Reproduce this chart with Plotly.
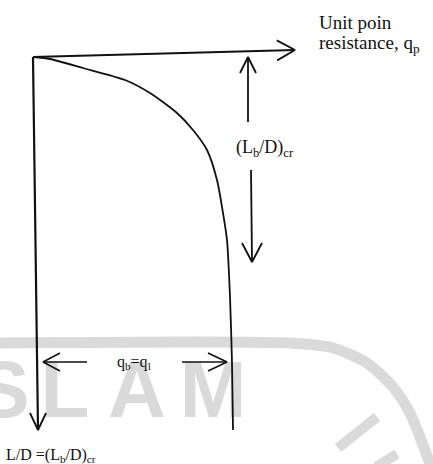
import plotly.graph_objects as go

# curve q_p vs L/D (diagram units, origin at the corner of the axes, depth downwards)
curve_q = [0, 17, 50, 92, 117, 144, 160, 174, 184, 190, 194, 197, 199, 200]
curve_depth = [0, 2, 11, 23, 36, 56, 73, 93, 123, 156, 183, 240, 306, 373]

# axes ends
q_axis_end = [262, -7]
depth_axis_end = [5, 373]

# (Lb/D)cr dimension arrow
crit_x = [215, 219]
crit_top = [0, 65]
crit_bottom = [113, 205]

# q_b = q_l dimension arrow
ql_y = 305
ql_left = [10, 54]
ql_right = [149, 194]

# scanned watermark (letters and ring of the stamp)
wm_letters = ["S", "L", "A", "M"]
wm_x = [-30, 32, 104, 180]
ring_x = [-40, 257, 300, 334, 360, 377, 390, 398]
ring_y = [286, 286, 291, 306, 330, 356, 388, 410]

BLACK = "#111111"
WM = "#dadada"


def chevron(tx, ty, dx, dy, length=17, half=9):
    # open arrow head, (dx, dy) unit direction of the arrow
    bx, by = tx - dx * length, ty - dy * length
    px, py = -dy * half, dx * half
    return [bx + px, tx, bx - px], [by + py, ty, by - py]


def line(fig, xs, ys, width=2, shape="linear", color=BLACK):
    fig.add_trace(go.Scatter(x=xs, y=ys, mode="lines", hoverinfo="skip",
                             line=dict(color=color, width=width, shape=shape,
                                       smoothing=0.7 if shape == "spline" else None)))


fig = go.Figure()

# watermark left over from the scan (kept under the drawing)
fig.add_trace(go.Scatter(
    x=wm_x, y=[340] * len(wm_x), mode="text", hoverinfo="skip",
    text=["<b>%s</b>" % s for s in wm_letters], textposition="middle center",
    textfont=dict(family="Liberation Sans", size=80, color=WM),
))
line(fig, ring_x, ring_y, 11, "spline", WM)
line(fig, [344, 305], [360, 391], 10, color=WM)
line(fig, [364, 343], [397, 410], 10, color=WM)

# axes
line(fig, [0, q_axis_end[0]], [0, q_axis_end[1]], 2.2)
hx, hy = chevron(q_axis_end[0], q_axis_end[1], 1, -0.02, 18, 10)
line(fig, hx, hy, 1.8)
line(fig, [0, depth_axis_end[0]], [0, depth_axis_end[1]], 2.2)
hx, hy = chevron(depth_axis_end[0], depth_axis_end[1], 0, 1, 17, 8)
line(fig, hx, hy, 1.8)

# curve
line(fig, curve_q, curve_depth, 1.8, "spline")

# critical depth arrow
line(fig, [crit_x[0], crit_x[0]], crit_top, 1.8)
hx, hy = chevron(crit_x[0], crit_top[0], 0, -1, 16, 8)
line(fig, hx, hy, 1.8)
line(fig, [crit_x[1] - 1, crit_x[1]], crit_bottom, 1.8)
hx, hy = chevron(crit_x[1], crit_bottom[1], 0, 1, 19, 10)
line(fig, hx, hy, 1.8)

# q_b = q_l arrow
line(fig, ql_left, [ql_y, ql_y], 1.5)
hx, hy = chevron(ql_left[0], ql_y, -1, 0, 17, 9)
line(fig, hx, hy, 1.6)
line(fig, ql_right, [ql_y, ql_y], 1.5)
hx, hy = chevron(ql_right[1], ql_y, 1, 0, 19, 9)
line(fig, hx, hy, 1.6)

serif = "Liberation Serif"
fig.add_annotation(x=284, y=-35, text="Unit poin", showarrow=False, xanchor="left",
                   font=dict(family=serif, size=19, color=BLACK))
fig.add_annotation(x=284, y=-13, text="resistance, q<sub>p</sub>", showarrow=False,
                   xanchor="left", font=dict(family=serif, size=19, color=BLACK))
fig.add_annotation(x=232, y=91, text="(L<sub>b</sub>/D)<sub>cr</sub>", showarrow=False,
                   font=dict(family=serif, size=18, color=BLACK))
fig.add_annotation(x=101, y=305, text="q<sub>b</sub>=q<sub>l</sub>", showarrow=False,
                   font=dict(family=serif, size=16, color=BLACK))
fig.add_annotation(x=-29, y=398, text="L/D =(L<sub>b</sub>/D)<sub>cr</sub>", showarrow=False,
                   xanchor="left", font=dict(family=serif, size=16, color=BLACK))

fig.update_xaxes(range=[-33, 400], visible=False, fixedrange=True)
fig.update_yaxes(range=[407, -57], visible=False, fixedrange=True)
fig.update_layout(
    width=433,
    height=464,
    margin=dict(l=0, r=0, t=0, b=0),
    paper_bgcolor="white",
    plot_bgcolor="white",
    showlegend=False,
)

fig.write_html("out.html", config=dict(displayModeBar=False),
               post_script="document.body.style.margin='0';")
